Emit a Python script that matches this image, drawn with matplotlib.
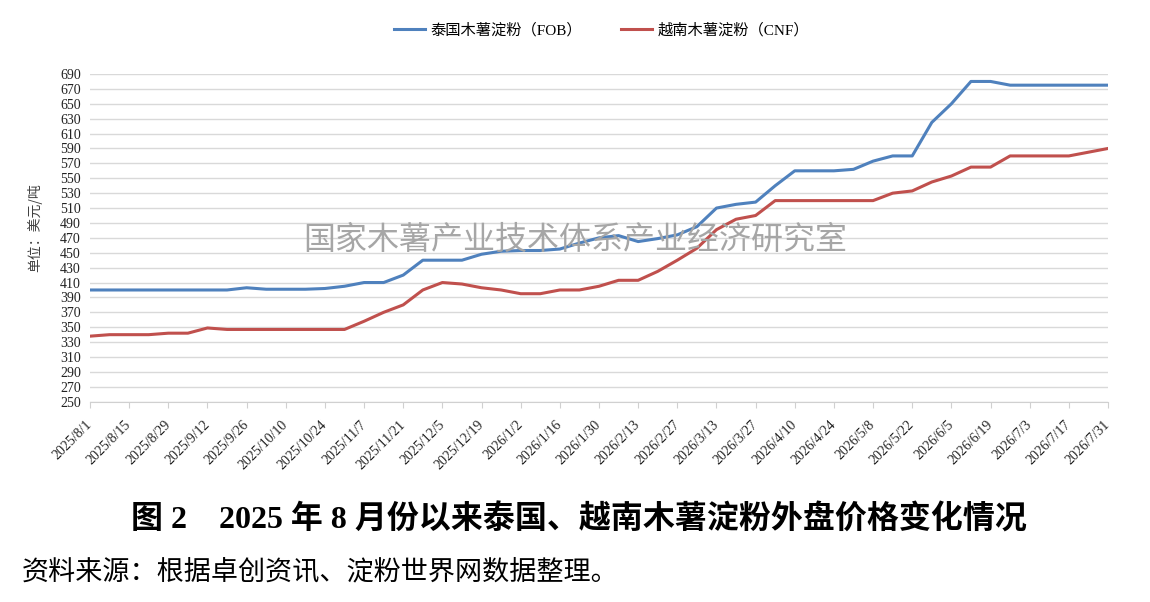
import matplotlib
matplotlib.use("Agg")
import matplotlib.pyplot as plt
import matplotlib.transforms as mtransforms
import numpy as np
import pandas as pd

plt.rcParams["font.family"] = ["Liberation Serif", "Noto Sans CJK SC", "DejaVu Sans"]

# weekly observations, 2025/8/1 .. 2026/7/31
dates = pd.date_range("2025-08-01", "2026-07-31", freq="7D")
thai_fob = [
    400, 400, 400, 400, 400, 400, 400, 400, 403, 401,
    401, 401, 402, 405, 410, 410, 420, 440, 440, 440,
    448, 452, 453, 453, 455, 463, 470, 473, 465, 469,
    474, 485, 510, 515, 518, 540, 560, 560, 560, 562,
    573, 580, 580, 625, 650, 680, 680, 675, 675, 675,
    675, 675, 675,
]
vn_cnf = [
    338, 340, 340, 340, 342, 342, 349, 347, 347, 347,
    347, 347, 347, 347, 358, 370, 380, 400, 410, 408,
    403, 400, 395, 395, 400, 400, 405, 413, 413, 425,
    440, 456, 481, 495, 500, 520, 520, 520, 520, 520,
    520, 530, 533, 545, 553, 565, 565, 580, 580, 580,
    580, 585, 590,
]
tick_labels = [f"{d.year}/{d.month}/{d.day}" for d in dates[::2]]
y_ticks = list(range(250, 691, 20))

fig = plt.figure(figsize=(11.5, 6.02), dpi=100)
ax = fig.add_axes([90 / 1150, 1 - 401.7 / 602, (1108 - 90) / 1150, (401.7 - 74) / 602])

x = np.arange(len(dates))
ax.plot(x, thai_fob, color="#4f81bd", lw=2.2, label="泰国木薯淀粉（FOB）")
ax.plot(x, vn_cnf, color="#c0504d", lw=2.2, label="越南木薯淀粉（CNF）")

ax.set_xlim(0, len(dates) - 1)
ax.set_ylim(250, 690)
ax.set_yticks(y_ticks)
ax.set_xticks(x[::2])
ax.set_xticklabels(tick_labels, rotation=45, ha="right", va="center", rotation_mode="anchor", fontsize=10)
shift = mtransforms.ScaledTranslation(0.10, 0, fig.dpi_scale_trans)
for lbl in ax.get_xticklabels():
    lbl.set_transform(lbl.get_transform() + shift)
ax.tick_params(axis="y", length=0, labelsize=10, pad=6.5, labelcolor="#222222")
ax.tick_params(axis="x", length=4, color="#d0d0d0", pad=11, labelcolor="#222222")
ax.grid(axis="y", color="#d9d9d9", lw=1)
ax.set_axisbelow(True)
for side in ["top", "right", "left"]:
    ax.spines[side].set_visible(False)
ax.spines["bottom"].set_color("#d0d0d0")

fig.text(35 / 1150, 1 - 228 / 602, "单位：美元/吨", rotation=90, ha="center", va="center",
         fontsize=10, color="#404040", family=["Noto Sans CJK SC"])
fig.text(575 / 1150, 1 - 240 / 602, "国家木薯产业技术体系产业经济研究室", ha="center", va="center",
         fontsize=23, color="#a6a6a6", family=["Noto Sans CJK SC"])

fig.legend(loc="center", bbox_to_anchor=(0.523, 1 - 30 / 602), ncol=2, frameon=False,
           handlelength=2.0, handletextpad=0.35, columnspacing=2.6,
           prop={"family": ["Liberation Serif", "Noto Sans CJK SC"], "size": 11})

fig.text(579 / 1150, 1 - 520 / 602, "图 2　2025 年 8 月份以来泰国、越南木薯淀粉外盘价格变化情况", ha="center",
         va="center", fontsize=23, fontweight="bold")
fig.text(22 / 1150, 1 - 573 / 602, "资料来源：根据卓创资讯、淀粉世界网数据整理。", ha="left", va="center",
         fontsize=19.5)

fig.savefig("out.png", dpi=100)
